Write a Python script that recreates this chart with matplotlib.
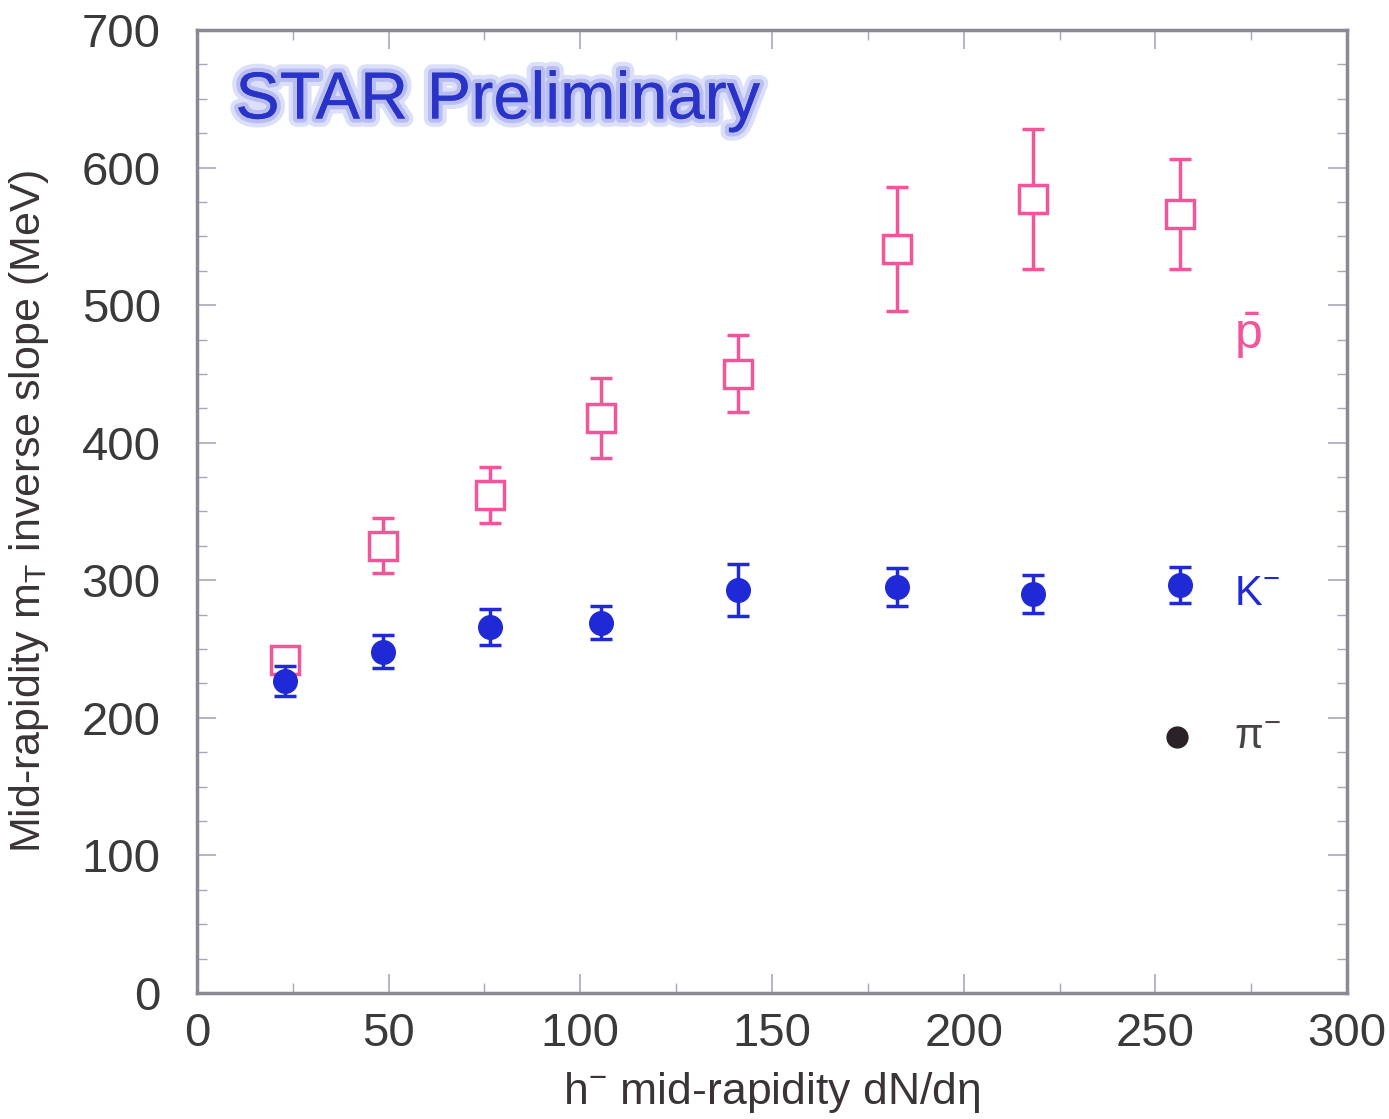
import matplotlib
matplotlib.use("Agg")
import matplotlib.pyplot as plt
import matplotlib.patheffects as pe
import numpy as np

# h- mid-rapidity dN/deta
dndeta = [23, 48.5, 76.5, 105.5, 141, 182.5, 218, 256.5]

# anti-proton inverse slopes (MeV) and errors
pbar_T = [242, 325, 362, 418, 450, 541, 577, 566]
pbar_err = [6, 20, 20, 29, 28, 45, 51, 40]

# K- inverse slopes (MeV) and errors
kminus_T = [227, 248, 266, 269, 293, 295, 290, 296.5]
kminus_err = [11, 12, 13, 12, 19, 14, 14, 13]

# pi- (only the legend marker is shown)
pi_x = [255.7]
pi_T = [186]

pink = '#f2559a'
blue = '#1f2ad6'

plt.rcParams['font.family'] = ['Liberation Sans', 'DejaVu Sans']

fig = plt.figure(figsize=(13.89, 11.19), dpi=100)
ax = fig.add_axes([0.1418, 0.1126, 0.828, 0.8606])

ax.errorbar(dndeta, pbar_T, yerr=pbar_err, fmt='s', ms=20, mfc='white',
            mec=pink, mew=2.5, ecolor=pink, elinewidth=2.5, capsize=8,
            capthick=2.5, zorder=2)
ax.errorbar(dndeta, kminus_T, yerr=kminus_err, fmt='o', ms=17, mfc=blue,
            mec=blue, ecolor=blue, elinewidth=2.5, capsize=8, capthick=2.5,
            zorder=3)
ax.plot(pi_x, pi_T, 'o', ms=15, color='#2a2226', zorder=3)

ax.text(270.5, 478, r'$\mathregular{\bar{p}}$', color=pink, fontsize=36,
        ha='left', va='center')
ax.text(270.5, 290, r'K$^{\mathregular{-}}$', color=blue, fontsize=30,
        ha='left', va='center')
ax.text(270.5, 186, r'$\mathregular{\pi^{-}}$', color='#4a4448', fontsize=30,
        ha='left', va='center')

ax.text(10, 648, 'STAR Preliminary', color='#2a33c8', fontsize=48,
        ha='left', va='center',
        path_effects=[pe.withStroke(linewidth=12, foreground='#dcdff9'),
                      pe.withStroke(linewidth=6, foreground='#b8bdf2'),
                      pe.Normal()])

ax.set_xlim(0, 300)
ax.set_ylim(0, 700)
ax.set_xticks(np.arange(0, 301, 50))
ax.set_yticks(np.arange(0, 701, 100))
ax.set_xticks(np.arange(0, 301, 25), minor=True)
ax.set_yticks(np.arange(0, 701, 25), minor=True)
ax.tick_params(axis='both', which='both', direction='in', top=True,
               right=True, colors='#a8a8bc', labelcolor='#3a3a3a',
               labelsize=34)
ax.tick_params(which='major', length=14, width=1.2)
ax.tick_params(which='minor', length=7, width=1)
ax.tick_params(axis='x', pad=14)
ax.tick_params(axis='y', pad=26)
for s in ax.spines.values():
    s.set_color('#8a8a96')
    s.set_linewidth(2.5)

ax.set_xlabel(r'h$^{\mathregular{-}}$ mid-rapidity dN/d$\mathregular{\eta}$',
              fontsize=32, color='#3a3438', labelpad=10)
ax.set_ylabel(r'Mid-rapidity m$_{\mathregular{T}}$ inverse slope (MeV)',
              fontsize=31, color='#3a3438', labelpad=22)

fig.savefig('out.png', dpi=100)
